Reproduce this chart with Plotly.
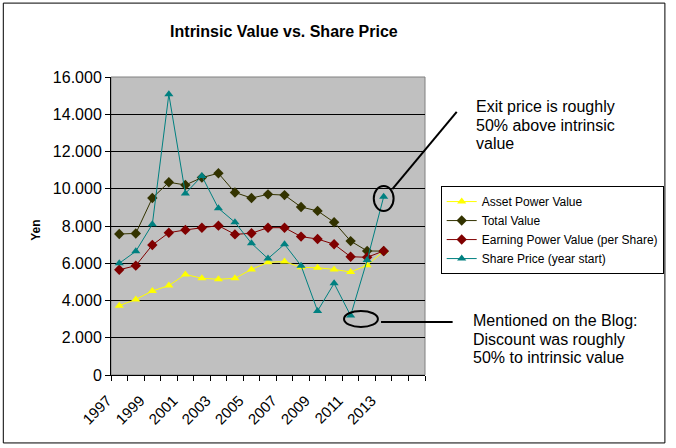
import plotly.graph_objects as go

# data (yen per share)
years = list(range(1997, 2014))
asset_power = [3720, 4060, 4510, 4800, 5400, 5190, 5140, 5190, 5670, 6050,
               6090, 5780, 5760, 5670, 5530, 5890, 6650]
total_value = [7570, 7600, 9500, 10350, 10200, 10600, 10830, 9800, 9500, 9700,
               9660, 9020, 8810, 8200, 7190, 6660, 6650]
earning_power = [5650, 5870, 6980, 7640, 7790, 7910, 8020, 7550, 7610, 7910,
                 7910, 7430, 7300, 7020, 6350, 6320, 6660]
share_price = [6000, 6640, 8090, 15070, 9750, 10680, 8950, 8200, 7070, 6250,
               7020, 5870, 3440, 4920, 3190, 6170, 9570]
tick_years = [1997, 1999, 2001, 2003, 2005, 2007, 2009, 2011, 2013]

exit_note = ["Exit price is roughly", "50% above intrinsic", "value"]
blog_note = ["Mentioned on the Blog:", "Discount was roughly", "50% to intrinsic value"]

FONT = "Arial, Liberation Sans, sans-serif"

fig = go.Figure()
fig.add_trace(go.Scatter(x=years, y=asset_power, name="Asset Power Value",
                         mode="lines+markers", line=dict(color="#FFFF00", width=1),
                         marker=dict(symbol="triangle-up", size=8, color="#FFFF00")))
fig.add_trace(go.Scatter(x=years, y=total_value, name="Total Value",
                         mode="lines+markers", line=dict(color="#333300", width=1),
                         marker=dict(symbol="diamond", size=8, color="#333300")))
fig.add_trace(go.Scatter(x=years, y=earning_power, name="Earning Power Value (per Share)",
                         mode="lines+markers", line=dict(color="#800000", width=1),
                         marker=dict(symbol="diamond", size=8, color="#800000")))
fig.add_trace(go.Scatter(x=years, y=share_price, name="Share Price (year start)",
                         mode="lines+markers", line=dict(color="#008080", width=1),
                         marker=dict(symbol="triangle-up", size=8, color="#008080")))

# plot area border (grey) and chart border (black)
fig.add_shape(type="rect", xref="paper", yref="paper", x0=0, x1=1, y0=0, y1=1,
              line=dict(color="#808080", width=1), layer="below")
fig.add_shape(type="rect", xref="paper", yref="paper", x0=-0.343, x1=1.764,
              y0=-0.228, y1=1.248, line=dict(color="black", width=1))

# circles and pointer lines
fig.add_shape(type="circle", xref="x", yref="y", x0=2012.4, x1=2013.6,
              y0=8810, y1=10150, line=dict(color="black", width=2))
fig.add_shape(type="circle", xref="x", yref="y", x0=2010.6, x1=2012.65,
              y0=2580, y1=3440, line=dict(color="black", width=2))
fig.add_shape(type="line", xref="paper", yref="paper", x0=0.896, y0=0.624,
              x1=1.101, y1=0.883, line=dict(color="black", width=2))
fig.add_shape(type="line", xref="paper", yref="paper", x0=0.86, y0=0.178,
              x1=1.088, y1=0.178, line=dict(color="black", width=2))

# notes, one line at a time (Excel line spacing ~18.5px)
for i, line in enumerate(exit_note):
    fig.add_annotation(xref="paper", yref="paper", x=1.157, y=0.9 - i * 0.062,
                       xanchor="left", yanchor="middle", showarrow=False, text=line,
                       font=dict(family=FONT, size=16, color="black"))
for i, line in enumerate(blog_note):
    fig.add_annotation(xref="paper", yref="paper", x=1.145, y=0.182 - i * 0.062,
                       xanchor="left", yanchor="middle", showarrow=False, text=line,
                       font=dict(family=FONT, size=16, color="black"))
fig.add_annotation(xref="paper", yref="paper", x=-0.268, y=0.487, textangle=-90,
                   showarrow=False, text="<b>Yen</b>",
                   font=dict(family=FONT, size=12, color="black"))

fig.update_layout(
    width=676, height=448,
    margin=dict(l=111, r=247, t=77, b=73),
    paper_bgcolor="white", plot_bgcolor="#C0C0C0",
    separators=",.",
    font=dict(family=FONT, color="black"),
    title=dict(text="<b>Intrinsic Value vs. Share Price</b>", x=0.42, xanchor="center",
               y=0.929, yanchor="middle", font=dict(family=FONT, size=16, color="black")),
    showlegend=True,
    legend=dict(x=1.05, y=0.634, xanchor="left", yanchor="top",
                bordercolor="black", borderwidth=1, bgcolor="white",
                font=dict(family=FONT, size=12, color="black"),
                tracegroupgap=0, itemwidth=30),
)
fig.update_xaxes(range=[1996.5, 2015.5], tickvals=tick_years,
                 ticktext=[str(y) for y in tick_years], tickangle=-45,
                 ticks="", showgrid=False, zeroline=False,
                 showline=True, linecolor="black", linewidth=1,
                 ticklabelshift=-12, ticklabelstandoff=10,
                 tickfont=dict(family=FONT, size=15, color="black"),
                 minor=dict(ticks="outside", tick0=1996.5, dtick=1, ticklen=5,
                            tickcolor="black", showgrid=False))
fig.update_yaxes(range=[0, 16000], dtick=2000, tickformat=",d",
                 ticks="outside", ticklen=5, tickcolor="black",
                 showgrid=True, gridcolor="black", gridwidth=1, zeroline=False,
                 showline=True, linecolor="black", linewidth=1,
                 tickfont=dict(family=FONT, size=16, color="black"))

# drop the browser's default page margin so the figure sits at the top-left corner
fig.write_html("out.html", config={"displayModeBar": False},
               post_script="document.body.style.margin='0';")
